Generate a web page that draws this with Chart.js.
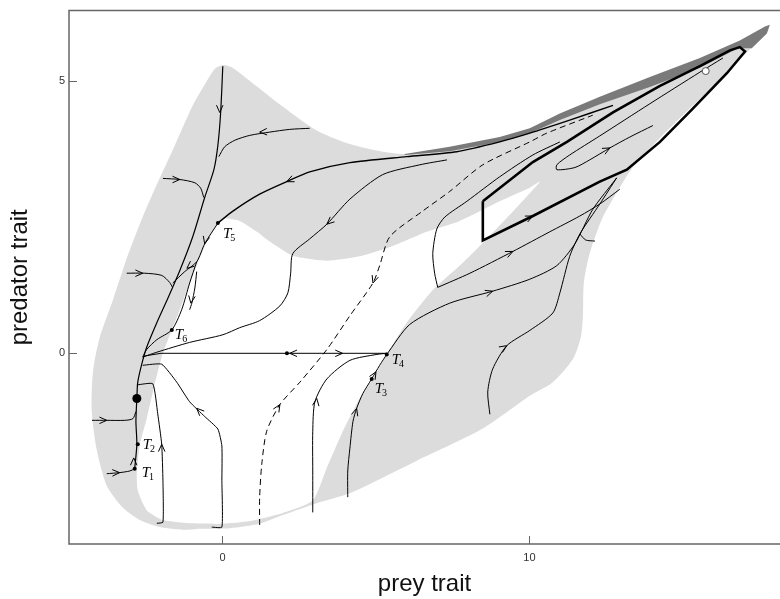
<!DOCTYPE html>
<html>
<head>
<meta charset="utf-8">
<script src="https://cdn.jsdelivr.net/npm/chart.js@4.4.0/dist/chart.umd.min.js"></script>
<style>
  html, body { margin: 0; padding: 0; background: #fff; overflow: hidden; }
  #wrap { width: 780px; height: 599px; position: relative; }
</style>
</head>
<body>
<div id="wrap"><canvas id="fases"></canvas></div>
<script>
// ticks de los ejes
const xTicks = [0, 10];
const yTicks = [0, 5];

// region gris clara (borde exterior)
const regionGris = [[-0.74,-3.22],[-1.29,-3.24],[-2.04,-3.19],[-2.69,-3.06],[-3.25,-2.83],[-3.77,-2.43],[-4.09,-1.79],[-4.26,-1.07],[-4.22,-0.34],[-4.0,0.29],[-3.57,0.98],[-3.12,1.74],[-2.60,2.50],[-2.04,3.22],[-1.55,3.82],[-0.97,4.55],[-0.51,5.0],[-0.25,5.22],[0.01,5.29],[0.30,5.25],[0.89,5.0],[1.96,4.53],[3.07,4.09],[4.15,3.84],[5.22,3.70],[6.0,3.66],[7.40,3.77],[9.03,3.95],[10.01,4.11],[10.99,4.40],[12.29,4.69],[13.92,5.05],[15.55,5.40],[16.85,5.72],[17.67,5.98],[17.80,6.01],[17.73,5.87],[17.18,5.58],[16.43,5.14],[15.55,4.67],[14.25,3.95],[13.36,3.41],[12.94,3.04],[12.39,2.50],[11.96,1.83],[11.77,1.29],[11.74,0.69],[11.67,0.29],[11.41,-0.11],[10.76,-0.53],[10.01,-0.78],[8.48,-1.38],[6.33,-1.97],[4.14,-2.57],[3.07,-2.75],[1.96,-2.97],[1.21,-3.13],[0.24,-3.21],[-0.74,-3.22]];

// hueco blanco interior
const huecoBlanco = [[-0.15,2.39],[-0.41,2.16],[-0.64,1.88],[-1.07,1.29],[-1.39,0.80],[-1.72,0.33],[-1.98,-0.07],[-2.27,-0.71],[-2.47,-1.20],[-2.69,-1.67],[-2.79,-2.16],[-2.76,-2.52],[-2.47,-2.88],[-1.94,-3.06],[-1.07,-3.12],[0.01,-3.13],[0.89,-3.08],[1.96,-2.93],[2.94,-2.70],[3.40,-2.10],[3.92,-1.43],[4.47,-0.83],[4.89,-0.47],[5.35,-0.02],[6.0,0.56],[6.85,1.16],[7.73,1.61],[8.61,2.10],[9.52,2.64],[10.34,3.15],[10.01,3.04],[9.03,2.79],[7.73,2.43],[6.65,2.23],[5.55,1.97],[4.47,1.78],[3.40,1.70],[2.29,1.79],[1.54,2.05],[1.12,2.23],[0.56,2.43],[0.01,2.48],[-0.15,2.39]];

// banda gris oscura
const bandaOscura = [[5.93,3.66],[7.40,3.79],[9.03,3.97],[10.01,4.13],[10.99,4.40],[12.29,4.71],[13.92,5.07],[15.55,5.42],[16.85,5.74],[17.67,6.0],[17.83,6.03],[17.73,5.87],[17.24,5.60],[16.79,5.60],[15.55,5.24],[13.92,4.89],[12.29,4.57],[10.99,4.28],[10.01,4.04],[9.03,3.88],[7.40,3.71],[5.93,3.64]];

// trayectorias
const curvaA = [[0.01,5.27],[-0.06,4.42],[-0.15,3.82],[-0.28,3.37],[-0.58,2.86],[-0.97,2.14],[-1.39,1.52],[-1.78,1.01],[-2.14,0.56],[-2.47,0.11],[-2.63,-0.20],[-2.76,-0.53],[-2.79,-0.83],[-2.82,-1.25],[-2.79,-1.67],[-2.86,-2.12]];
const curvaB = [[2.84,4.13],[2.19,4.11],[1.54,4.06],[0.89,4.0],[0.40,3.91],[0.07,3.79],[-0.12,3.61]];
const curvaC = [[-1.94,3.21],[-1.39,3.19],[-0.90,3.13],[-0.71,3.03],[-0.61,2.86]];
const curvaD = [[-3.12,1.47],[-2.53,1.47],[-1.98,1.43],[-1.72,1.30],[-1.62,1.20]];
const curvaE1 = [[-4.25,-1.23],[-3.77,-1.23],[-3.18,-1.23],[-2.92,-1.20],[-2.82,-1.07]];
const curvaE2 = [[-3.77,-2.21],[-3.35,-2.19],[-3.02,-2.16],[-2.86,-2.12]];
const curvaF = [[12.72,4.55],[11.31,4.28],[10.01,4.04],[9.03,3.88],[7.63,3.70],[6.0,3.61],[4.15,3.50],[2.84,3.33],[2.09,3.15],[1.21,2.92],[0.34,2.61],[-0.15,2.39]];
const curvaT5 = [[-0.15,2.39],[-0.58,2.01],[-0.84,1.68],[-1.23,1.50],[-1.62,1.29]];
const curvaT6 = [[-0.84,1.68],[-1.07,1.29],[-1.33,0.80],[-1.65,0.43],[-2.14,0.25],[-2.47,0.07],[-2.60,-0.07]];
const curvaCorta = [[-0.84,1.50],[-0.90,1.20],[-1.0,0.92],[-1.07,0.80]];
const curvaH = [[7.31,3.55],[6.43,3.46],[5.22,3.28],[4.15,2.83],[3.40,2.37],[2.84,2.10],[2.29,1.83],[2.22,1.47],[2.13,1.11],[1.87,0.87],[1.21,0.60],[0.56,0.47],[0.01,0.34],[-1.07,0.20],[-2.14,0.02],[-2.60,-0.07]];
const separatriz = [[1.21,-3.15],[1.21,-2.64],[1.28,-2.03],[1.44,-1.43],[1.87,-0.94],[2.52,-0.53],[3.40,0.07],[4.15,0.69],[4.90,1.29],[5.12,1.61],[5.45,2.14],[6.52,2.61],[7.40,2.97],[8.48,3.46],[10.01,3.88],[10.56,4.04],[12.06,4.37]];
const curvaI = [[10.99,3.88],[10.11,3.64],[9.03,3.24],[7.96,2.79],[7.24,2.50],[6.98,2.28],[6.85,1.83],[6.91,1.47],[7.01,1.21]];
const curvaM = [[7.01,1.21],[8.06,1.47],[9.46,1.87],[10.66,2.23],[11.64,2.52],[12.29,2.74],[12.94,3.01]];
const cicloGrueso = [[8.48,2.79],[8.48,2.07],[10.11,2.52],[12.29,3.15],[13.17,3.37],[14.25,3.88],[15.32,4.49],[16.43,5.14],[17.02,5.54],[16.85,5.62],[16.53,5.56],[15.55,5.27],[14.25,4.91],[12.72,4.42],[11.22,3.88],[10.11,3.51],[8.48,2.79]];
const espiral = [[16.30,5.42],[15.55,5.16],[13.92,4.58],[12.29,3.99],[11.31,3.64],[10.89,3.46],[10.89,3.37],[11.48,3.41],[11.96,3.55],[12.62,3.77],[13.27,3.97],[14.02,4.18]];
const curvaK = [[5.35,-0.02],[6.10,0.53],[7.40,0.92],[8.80,1.14],[10.01,1.36],[10.89,1.61],[11.48,2.01],[12.06,2.64],[12.84,3.22]];
const curvaY = [[8.71,-1.12],[8.64,-0.71],[8.80,-0.29],[9.26,0.14],[10.01,0.42],[10.76,0.74],[10.99,1.11],[11.31,1.78],[11.64,2.19],[12.29,2.74],[12.84,3.22]];
const gancho = [[11.64,2.19],[11.83,2.08],[12.13,2.06]];
const curvaT = [[2.94,-2.92],[2.94,-2.16],[2.94,-1.43],[3.01,-0.89],[3.40,-0.47],[4.15,-0.13],[5.03,-0.02],[5.35,0]];
const curvaU = [[4.08,-2.64],[4.08,-2.16],[4.15,-1.74],[4.25,-1.25],[4.37,-1.01],[4.57,-0.74],[4.86,-0.47],[5.12,-0.22],[5.35,-0.02]];
const horizontal = [[-2.55,-0.05],[-2.0,0],[5.35,0]];
const curvaQ = [[-2.60,-0.22],[-1.98,-0.20],[-1.49,-0.53],[-1.07,-0.89],[-0.58,-1.16],[-0.15,-1.39],[-0.02,-1.70],[-0.02,-2.34],[-0.02,-3.19],[-0.35,-3.19]];
const curvaR = [[-2.79,-0.58],[-2.27,-0.56],[-2.11,-1.11],[-1.98,-1.67],[-1.94,-2.34],[-1.94,-3.10],[-2.14,-3.12]];

// puntos de equilibrio
const puntosT = [[-2.86,-2.12],[-2.76,-1.67],[4.86,-0.47],[5.35,-0.02],[-0.15,2.39],[-1.65,0.43],[2.10,0]];
const etiquetasT = ['1','2','3','4','5','6',''];
const puntoGrande = [[-2.79,-0.83]];
const puntoAbierto = [[15.74,5.18]];

// flechas: x, y, direccion dx, dy
const flechas = [
  [-0.09,4.42,0,-1],[1.21,4.06,-1,-0.03],[-1.39,3.19,1,0],[-2.60,1.47,1,0],
  [-3.77,-1.23,1,0],[-3.35,-2.19,1,0.02],[2.09,3.15,-0.81,-0.2],[-0.58,2.01,-0.16,-0.36],
  [-1.16,1.56,-0.39,-0.18],[-1.03,0.92,-0.07,-0.27],[3.40,2.37,-0.55,-0.27],[4.90,1.29,-0.16,-0.27],
  [1.87,-0.94,0.39,0.36],[2.19,0,-1,0],[3.91,0,1,0],[3.07,-0.83,0.065,0.27],
  [4.37,-1.01,0.13,0.25],[5.0,-0.34,0.26,0.25],[-0.84,-1.01,-0.33,0.18],[-1.98,-1.67,0,1],
  [-2.89,-1.92,0.02,1],[8.80,1.14,0.49,0.09],[9.26,0.14,0.39,0.145],[9.46,1.87,0.49,0.127],
  [10.11,2.52,0.49,0.127],[12.62,3.77,0.49,0.145]
];

const pts = (arr) => arr.map(([x, y]) => ({x, y}));

const linea = (datos, extra) => Object.assign({
  data: pts(datos),
  borderColor: '#000',
  borderWidth: 1,
  pointRadius: 0,
  fill: false,
  tension: 0.25,
  order: 1
}, extra);

const area = (datos, color, orden, tension) => linea(datos, {
  fill: 'shape', backgroundColor: color, borderColor: 'rgba(0,0,0,0)',
  borderWidth: 0, order: orden, tension: tension
});

// offsets de las etiquetas T (px)
const desplazamientos = [[7,8],[5,5],[3,14],[5,10],[5,15],[3,9],[0,0]];

const extras = {
  id: 'extras',
  afterDatasetsDraw(chart) {
    const {ctx, chartArea: a, scales: {x, y}} = chart;
    ctx.save();
    // flechas abiertas
    ctx.strokeStyle = '#000';
    ctx.lineWidth = 1;
    flechas.forEach(([fx, fy, dx, dy]) => {
      const px = x.getPixelForValue(fx), py = y.getPixelForValue(fy);
      const ang = Math.atan2(y.getPixelForValue(fy + dy) - py, x.getPixelForValue(fx + dx) - px);
      ctx.beginPath();
      ctx.moveTo(px - 8 * Math.cos(ang - 0.42), py - 8 * Math.sin(ang - 0.42));
      ctx.lineTo(px, py);
      ctx.lineTo(px - 8 * Math.cos(ang + 0.42), py - 8 * Math.sin(ang + 0.42));
      ctx.stroke();
    });
    // etiquetas T_i
    ctx.fillStyle = '#000';
    ctx.textBaseline = 'alphabetic';
    puntosT.forEach(([tx, ty], i) => {
      if (!etiquetasT[i]) return;
      const px = x.getPixelForValue(tx) + desplazamientos[i][0];
      const py = y.getPixelForValue(ty) + desplazamientos[i][1];
      ctx.font = 'italic 15px "Liberation Serif", "DejaVu Serif", serif';
      ctx.fillText('T', px, py);
      const w = ctx.measureText('T').width;
      ctx.font = '10px "Liberation Serif", "DejaVu Serif", serif';
      ctx.fillText(etiquetasT[i], px + w - 1, py + 3);
    });
    // marco
    ctx.strokeStyle = '#666';
    ctx.lineWidth = 1.5;
    ctx.beginPath();
    ctx.moveTo(a.right + 2, a.top);
    ctx.lineTo(a.left, a.top);
    ctx.lineTo(a.left, a.bottom);
    ctx.lineTo(a.right + 2, a.bottom);
    ctx.stroke();
    // ticks hacia adentro
    ctx.lineWidth = 1;
    xTicks.forEach(v => {
      const px = Math.round(x.getPixelForValue(v)) + 0.5;
      ctx.beginPath(); ctx.moveTo(px, a.bottom); ctx.lineTo(px, a.bottom - 8); ctx.stroke();
    });
    yTicks.forEach(v => {
      const py = Math.round(y.getPixelForValue(v)) + 0.5;
      ctx.beginPath(); ctx.moveTo(a.left, py); ctx.lineTo(a.left + 8, py); ctx.stroke();
    });
    ctx.restore();
  }
};

const grafico = new Chart(document.querySelector('#fases'), {
  type: 'line',
  data: {
    datasets: [
      area(regionGris, '#dcdcdc', 10, 0.25),
      area(huecoBlanco, '#ffffff', 9, 0.2),
      area(bandaOscura, '#7a7a7a', 8, 0),
      linea(curvaA, {borderWidth: 1.2}),
      linea(curvaB),
      linea(curvaC),
      linea(curvaD),
      linea(curvaE1),
      linea(curvaE2),
      linea(curvaF, {borderWidth: 1.4}),
      linea(curvaT5),
      linea(curvaT6),
      linea(curvaCorta),
      linea(curvaH),
      linea(separatriz, {borderDash: [6, 4]}),
      linea(curvaI),
      linea(curvaM),
      linea(espiral),
      linea(curvaK),
      linea(curvaY),
      linea(gancho),
      linea(curvaT),
      linea(curvaU),
      linea(horizontal, {tension: 0}),
      linea(curvaQ, {tension: 0.15}),
      linea(curvaR, {tension: 0.15}),
      linea(cicloGrueso, {borderWidth: 2.6, tension: 0, order: 0}),
      linea(puntosT, {showLine: false, pointRadius: 2, pointBackgroundColor: '#000', pointBorderWidth: 0, order: 0}),
      linea(puntoGrande, {showLine: false, pointRadius: 4.5, pointBackgroundColor: '#000', pointBorderWidth: 0, order: 0}),
      linea(puntoAbierto, {showLine: false, pointRadius: 3.5, pointBackgroundColor: '#fff', pointBorderColor: '#555', pointBorderWidth: 1, order: 0})
    ]
  },
  options: {
    responsive: true,
    maintainAspectRatio: false,
    animation: false,
    events: [],
    layout: {autoPadding: false, padding: {top: 4, right: 0, left: 0, bottom: 0}},
    plugins: {legend: {display: false}, tooltip: {enabled: false}},
    scales: {
      x: {
        type: 'linear',
        min: -5, max: 18.16,
        grid: {display: false, drawTicks: false},
        border: {display: false},
        afterBuildTicks: s => { s.ticks = xTicks.map(v => ({value: v})); },
        afterFit: s => { s.height = 55; },
        ticks: {font: {size: 11, family: 'Liberation Sans, Arial, sans-serif'}, color: '#333', padding: 7, maxRotation: 0},
        title: {display: true, text: 'prey trait', color: '#111', font: {size: 24, family: 'Liberation Sans, Arial, sans-serif'}, padding: {top: 0, bottom: 0}}
      },
      y: {
        type: 'linear',
        min: -3.5, max: 6.29,
        grid: {display: false, drawTicks: false},
        border: {display: false},
        afterBuildTicks: s => { s.ticks = yTicks.map(v => ({value: v})); },
        afterFit: s => { s.width = 69; },
        ticks: {font: {size: 11, family: 'Liberation Sans, Arial, sans-serif'}, color: '#333', padding: 4},
        title: {display: true, text: 'predator trait', color: '#111', font: {size: 24, family: 'Liberation Sans, Arial, sans-serif'}, padding: {top: 6, bottom: 0}}
      }
    }
  },
  plugins: [extras]
});
</script>
</body>
</html>
